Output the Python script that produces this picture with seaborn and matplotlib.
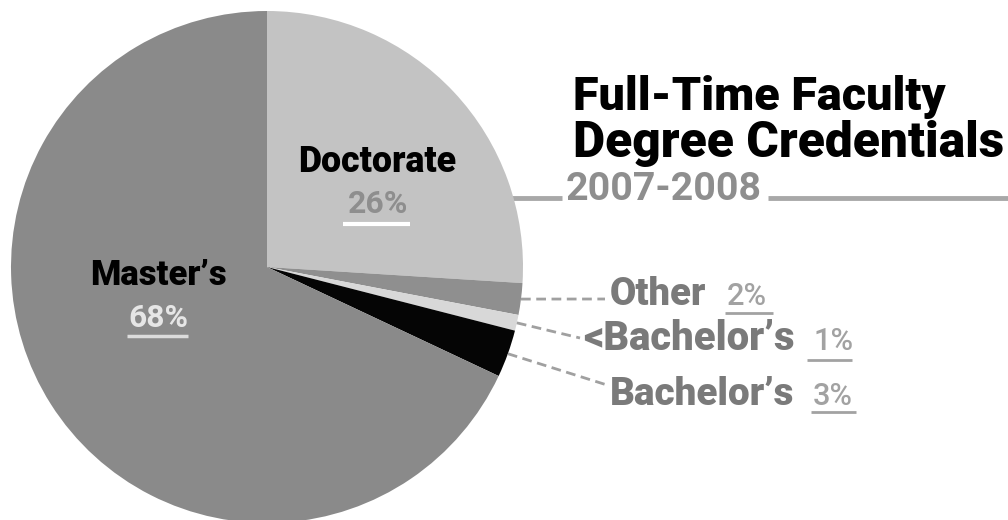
import math
import matplotlib
matplotlib.use("Agg")
import matplotlib.pyplot as plt
import matplotlib.transforms as mtransforms
import seaborn as sns

# Full-time faculty by highest degree, 2007-2008 (clockwise from 12 o'clock)
categories = ["Doctorate", "Other", "<Bachelor\u2019s", "Bachelor\u2019s", "Master\u2019s"]
shares = [26, 2, 1, 3, 68]
share_labels = [f"{v}%" for v in shares]
slice_colors = ["#c3c3c3", "#8f8f8f", "#d8d8d8", "#050505", "#8a8a8a"]
title_lines = ["Full-Time Faculty", "Degree Credentials"]
subtitle = "2007-2008"

sns.set_theme(style="white")
plt.rcParams["font.family"] = ["Roboto", "DejaVu Sans"]

W, H, DPI = 1008, 520, 100
fig = plt.figure(figsize=(W / DPI, H / DPI), dpi=DPI)
fig.patch.set_facecolor("white")
ax = fig.add_axes([0, 0, 1, 1])

wedges, _ = ax.pie(shares, colors=slice_colors, startangle=90,
                   counterclock=False, radius=1,
                   wedgeprops=dict(linewidth=0))

# pie centre and radius in output pixels (y measured from the top)
CX, CY, R = 267, 267, 256
ax.set_xlim(-CX / R, (W - CX) / R)
ax.set_ylim(-(H - CY) / R, CY / R)
ax.set_aspect("equal")
ax.axis("off")

# transform for pixel coordinates measured from the top-left corner
PX = mtransforms.Affine2D().scale(1 / W, -1 / H).translate(0, 1) + fig.transFigure
renderer = fig.canvas.get_renderer()


def to_data(px, py):
    return (px - CX) / R, (CY - py) / R


def fitted_text(x, y, s, width, color, weight="heavy", size=20):
    t = ax.text(x, y, s, transform=PX, ha="left", va="baseline",
                fontsize=size, color=color, fontweight=weight, zorder=5)
    w = t.get_window_extent(renderer).width
    t.set_fontsize(size * width / w)
    return t


def underline(x0, x1, y, color, lw=2.0):
    ax.plot([x0, x1], [y, y], transform=PX, color=color, lw=lw,
            solid_capstyle="butt", zorder=5)


# title block
fitted_text(573, 110, title_lines[0], 372, "black")
fitted_text(573, 157, title_lines[1], 432, "black")
fitted_text(566, 200, subtitle, 196, "#8e8e8e", weight="bold")
ax.plot([470, 562], [198, 198], transform=PX, color="#a8a8a8", lw=3.5,
        solid_capstyle="butt", zorder=0)
ax.plot([768, W], [198, 198], transform=PX, color="#a8a8a8", lw=3.5,
        solid_capstyle="butt", zorder=0)

# labels inside the two large slices
fitted_text(298, 172, categories[0], 158, "black")
fitted_text(348, 213, share_labels[0], 60, "#8e8e8e", weight="bold")
underline(343, 410, 224, "white", lw=3)

fitted_text(90, 285, categories[4], 137, "black")
fitted_text(128, 327, share_labels[4], 60, "#e6e6e6", weight="bold")
underline(127, 188, 336, "#dcdcdc", lw=2.5)

# call-outs for the three thin slices
callouts = {
    1: dict(name_xy=(610, 305), name_w=97, pct_xy=(727, 305), pct_w=40,
            ul=(725, 773, 313), end=(605, 299)),
    2: dict(name_xy=(583, 350), name_w=212, pct_xy=(813, 350), pct_w=40,
            ul=(807, 852, 360), end=(580, 338)),
    3: dict(name_xy=(610, 405), name_w=185, pct_xy=(813, 405), pct_w=40,
            ul=(811, 856, 412), end=(607, 385)),
}
for i, c in callouts.items():
    w = wedges[i]
    mid = 0.5 * (w.theta1 + w.theta2)
    sx, sy = math.cos(math.radians(mid)), math.sin(math.radians(mid))
    ex, ey = to_data(*c["end"])
    ax.plot([sx, ex], [sy, ey], color="#a0a0a0", lw=2.0,
            dashes=(3.5, 2), zorder=3)
    fitted_text(c["name_xy"][0], c["name_xy"][1], categories[i], c["name_w"],
                "#7a7a7a")
    fitted_text(c["pct_xy"][0], c["pct_xy"][1], share_labels[i], c["pct_w"],
                "#a2a2a2", weight="medium")
    x0, x1, yy = c["ul"]
    underline(x0, x1, yy, "#a2a2a2", lw=2)

fig.savefig("out.png", dpi=DPI, facecolor="white")
